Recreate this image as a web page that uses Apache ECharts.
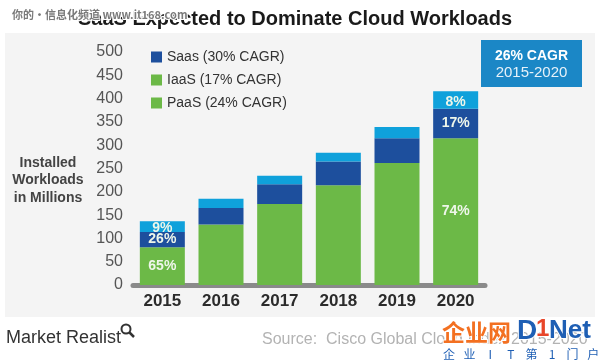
<!DOCTYPE html>
<html>
<head>
<meta charset="utf-8">
<script src="https://cdn.jsdelivr.net/npm/echarts@6/dist/echarts.min.js"></script>
<style>
html,body{margin:0;padding:0;background:#fff;}
#chart{width:600px;height:360px;}
</style>
</head>
<body>
<div id="chart"></div>
<script>
const years = ['2015', '2016', '2017', '2018', '2019', '2020'];
const yTicks = [0, 50, 100, 150, 200, 250, 300, 350, 400, 450, 500];
// green (bottom), dark blue (middle), light blue (top), in millions
const greenVals = [81, 130, 174, 214, 262, 315];
const darkVals = [33, 35, 42, 51, 53, 63];
const lightVals = [23, 20, 18.5, 19, 24, 38];
const greenPct = ['65%', '', '', '', '', '74%'];
const darkPct = ['26%', '', '', '', '', '17%'];
const lightPct = ['9%', '', '', '', '', '8%'];
const seriesNames = ['Saas (30% CAGR)', 'IaaS (17% CAGR)', 'PaaS (24% CAGR)'];
const logoSub = ['企', '业', 'I', 'T', '第', '1', '门', '户'];

const GREEN = '#6cb947', DARK = '#1d4f9d', LIGHT = '#0fa1db';
const FONT = 'Arial, "Liberation Sans", sans-serif';

const chart = echarts.init(document.getElementById('chart'), null, {renderer: 'canvas'});

function pctLabel(arr) {
  return {
    show: true, position: 'inside',
    formatter: p => arr[p.dataIndex],
    color: '#eef6ea', fontWeight: 'bold', fontSize: 14, fontFamily: FONT
  };
}

const subChars = logoSub.map((c, i) => ({
  type: 'text', z: 7,
  style: {text: c, x: 449 + i * 20.6, y: 354, align: 'center', verticalAlign: 'middle',
    font: '12px "Noto Sans CJK SC", sans-serif', fill: '#1f5fb4'}
}));

chart.setOption({
  backgroundColor: '#ffffff',
  animation: false,
  grid: {left: 133, right: 115, top: 52, bottom: 75},
  legend: {
    orient: 'vertical', left: 146, top: 45,
    itemWidth: 11, itemHeight: 11, itemGap: 9,
    icon: 'rect',
    textStyle: {fontSize: 14, color: '#333', fontFamily: FONT},
    data: [
      {name: seriesNames[0], itemStyle: {color: DARK}},
      {name: seriesNames[1], itemStyle: {color: GREEN}},
      {name: seriesNames[2], itemStyle: {color: GREEN}}
    ]
  },
  xAxis: {
    type: 'category', data: years,
    axisLine: {lineStyle: {color: '#8a8a8a', width: 5}},
    axisTick: {show: false},
    axisLabel: {fontSize: 17, fontWeight: 'bold', color: '#2b2b2b', margin: 8, fontFamily: FONT}
  },
  yAxis: {
    type: 'value', min: yTicks[0], max: yTicks[yTicks.length - 1], interval: 50,
    axisLine: {show: false}, axisTick: {show: false}, splitLine: {show: false},
    axisLabel: {fontSize: 16, color: '#555', margin: 10, fontFamily: FONT}
  },
  series: [
    {name: seriesNames[1], type: 'bar', stack: 'w', barWidth: 45, data: greenVals,
     itemStyle: {color: GREEN}, label: pctLabel(greenPct)},
    {name: seriesNames[0], type: 'bar', stack: 'w', barWidth: 45, data: darkVals,
     itemStyle: {color: DARK}, label: pctLabel(darkPct)},
    {name: seriesNames[2], type: 'bar', stack: 'w', barWidth: 45, data: lightVals,
     itemStyle: {color: LIGHT}, label: Object.assign(pctLabel(lightPct), {offset: [0, 2]})}
  ],
  graphic: [
    {type: 'rect', z: -10, shape: {x: 5, y: 33, width: 590, height: 284}, style: {fill: '#f4f4f4'}},
    {type: 'text', z: 5, style: {text: 'SaaS Expected to Dominate Cloud Workloads', x: 295, y: 19,
      align: 'center', verticalAlign: 'middle', font: 'bold 20px ' + FONT, fill: '#1a1a1a'}},
    {type: 'text', z: 6, style: {text: '你的·信息化频道 www.it168.com', x: 12, y: 15,
      align: 'left', verticalAlign: 'middle', font: 'bold 11px "Noto Sans CJK SC", sans-serif',
      fill: '#7a7a7a', stroke: '#ffffff', lineWidth: 2}},
    {type: 'rect', z: 5, shape: {x: 481, y: 40, width: 101, height: 47}, style: {fill: '#1b87c6'}},
    {type: 'text', z: 6, style: {text: '26% CAGR', x: 531.5, y: 56, align: 'center', verticalAlign: 'middle',
      font: 'bold 14px ' + FONT, fill: '#ffffff'}},
    {type: 'text', z: 6, style: {text: '2015-2020', x: 531.5, y: 73, align: 'center', verticalAlign: 'middle',
      font: '15px ' + FONT, fill: '#e6f1f9'}},
    {type: 'text', z: 5, style: {text: 'Installed\nWorkloads\nin Millions', x: 48, y: 180.5,
      align: 'center', verticalAlign: 'middle', font: 'bold 14px ' + FONT, fill: '#444', lineHeight: 17.5}},
    {type: 'text', z: 5, style: {text: 'Market Realist', x: 6, y: 338, align: 'left', verticalAlign: 'middle',
      font: '18px ' + FONT, fill: '#333'}},
    {type: 'circle', z: 5, shape: {cx: 126, cy: 329, r: 4.5}, style: {fill: 'none', stroke: '#333', lineWidth: 2}},
    {type: 'line', z: 5, shape: {x1: 129.5, y1: 332.5, x2: 134, y2: 337}, style: {stroke: '#333', lineWidth: 2.5}},
    {type: 'text', z: 5, style: {text: 'Source:  Cisco Global Cloud Index 2015-2020', x: 262, y: 340,
      align: 'left', verticalAlign: 'middle', font: '16px ' + FONT, fill: '#b3b3b3'}},
    {type: 'text', z: 7, style: {text: '企业网', x: 442, y: 332, align: 'left', verticalAlign: 'middle',
      font: 'bold 23px "Noto Sans CJK SC", sans-serif', fill: '#f37021', stroke: '#ffffff', lineWidth: 2}},
    {type: 'text', z: 7, style: {text: 'D', x: 517, y: 331, align: 'left', verticalAlign: 'middle',
      font: 'bold 28px ' + FONT, fill: '#1f5fb4', stroke: '#ffffff', lineWidth: 2}},
    {type: 'text', z: 7, style: {text: '1', x: 536, y: 329, align: 'left', verticalAlign: 'middle',
      font: 'bold 24px ' + FONT, fill: '#e8462a', stroke: '#ffffff', lineWidth: 2}},
    {type: 'text', z: 7, style: {text: 'Net', x: 549, y: 331, align: 'left', verticalAlign: 'middle',
      font: 'bold 26px ' + FONT, fill: '#1f5fb4', stroke: '#ffffff', lineWidth: 2}}
  ].concat(subChars)
});
</script>
</body>
</html>
